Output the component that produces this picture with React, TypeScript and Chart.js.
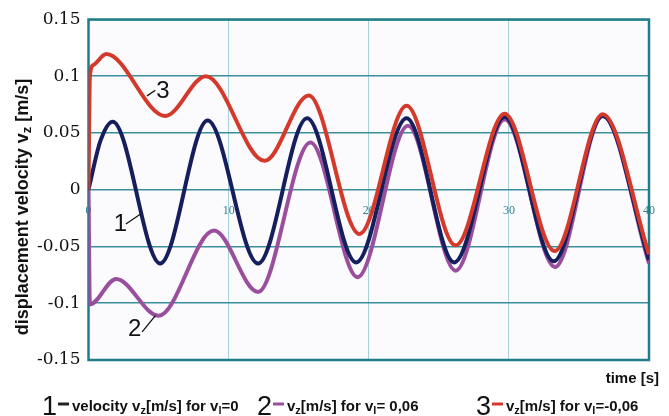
import React, { useEffect, useRef } from "react";
import { Chart, registerables } from "chart.js";

Chart.register(...registerables);

// Curve 1: velocity v_z [m/s] for v_l = 0
const time1 = [0, 0.85, 1.73, 5.12, 8.5, 12.1, 15.6, 19.1, 22.7, 26.1, 29.7, 33.2, 36.7, 40];
const vel1 = [0, 0.043, 0.06, -0.065, 0.061, -0.065, 0.063, -0.064, 0.063, -0.064, 0.064, -0.063, 0.065, -0.062];

// Curve 2: v_z [m/s] for v_l = 0,06
const time2 = [0, 0.1, 1.97, 5.0, 8.96, 12.1, 15.84, 19.2, 22.8, 26.2, 29.7, 33.3, 36.7, 40];
const vel2 = [0, -0.101, -0.0786, -0.111, -0.036, -0.09, 0.0417, -0.077, 0.0563, -0.0713, 0.062, -0.068, 0.065, -0.065];

// Curve 3: v_z [m/s] for v_l = -0,06
const time3 = [0, 0.1, 0.35, 1.27, 5.47, 8.38, 12.57, 15.72, 19.34, 22.7, 26.2, 29.7, 33.27, 36.7, 40];
const vel3 = [0, 0.1, 0.11, 0.1195, 0.065, 0.1, 0.0255, 0.083, -0.039, 0.074, -0.049, 0.067, -0.054, 0.0666, -0.057];

const xTickValues = [0, 10, 20, 30, 40];
const xTickLabels = ["0", "10", "20", "30", "40"];
const yTickValues = [-0.15, -0.1, -0.05, 0, 0.05, 0.1, 0.15];
const yTickLabels = ["-0.15", "-0.1", "-0.05", "0", "0.05", "0.1", "0.15"];

const curveNames = ["1", "2", "3"];
// in-plot curve labels (data units): text centre, leader line start and end
const labelTextT = [2.27, 3.29, 5.31];
const labelTextV = [-0.0302, -0.1226, 0.0869];
const leaderFromT = [2.67, 3.83, 4.18];
const leaderFromV = [-0.0302, -0.1253, 0.0827];
const leaderToT = [3.72, 4.77, 4.77];
const leaderToV = [-0.0214, -0.1109, 0.0877];

const COLORS = { c1: "#161f5e", c2: "#9a4f9e", c3: "#d43a2c" };

type Part = [string, boolean];

function drawParts(ctx: CanvasRenderingContext2D, parts: Part[], x: number, y: number, font: string, subFont: string, subDy: number) {
  let cx = x;
  for (const [t, s] of parts) {
    ctx.font = s ? subFont : font;
    ctx.fillText(t, cx, y + (s ? subDy : 0));
    cx += ctx.measureText(t).width;
  }
  return cx;
}
function partsWidth(ctx: CanvasRenderingContext2D, parts: Part[], font: string, subFont: string) {
  let w = 0;
  for (const [t, s] of parts) {
    ctx.font = s ? subFont : font;
    w += ctx.measureText(t).width;
  }
  return w;
}

const decorPlugin = {
  id: "decor",
  beforeDraw(chart: any) {
    const { ctx, chartArea: a } = chart;
    ctx.save();
    ctx.fillStyle = "#ffffff";
    ctx.fillRect(0, 0, chart.width, chart.height);
    ctx.fillStyle = "#fbfbfd";
    ctx.fillRect(a.left, a.top, a.right - a.left, a.bottom - a.top);
    ctx.restore();
  },
  beforeDatasetsDraw(chart: any) {
    const { ctx, chartArea: a } = chart;
    ctx.save();
    ctx.strokeStyle = "#1f7d8b";
    ctx.lineWidth = 2.5;
    ctx.strokeRect(a.left, a.top, a.right - a.left, a.bottom - a.top);
    ctx.restore();
  },
  afterDraw(chart: any) {
    const { ctx } = chart;
    const xs = chart.scales.x;
    const ys = chart.scales.y;
    ctx.save();
    // curve labels
    ctx.fillStyle = "#111";
    ctx.strokeStyle = "#111";
    ctx.lineWidth = 1.3;
    ctx.textAlign = "center";
    ctx.textBaseline = "middle";
    ctx.font = "24px 'Liberation Sans', Arial, sans-serif";
    for (let i = 0; i < curveNames.length; i++) {
      ctx.fillText(curveNames[i], xs.getPixelForValue(labelTextT[i]), ys.getPixelForValue(labelTextV[i]));
      ctx.beginPath();
      ctx.moveTo(xs.getPixelForValue(leaderFromT[i]), ys.getPixelForValue(leaderFromV[i]));
      ctx.lineTo(xs.getPixelForValue(leaderToT[i]), ys.getPixelForValue(leaderToV[i]));
      ctx.stroke();
    }

    // y-axis title
    const tFont = "bold 18px 'Liberation Sans', Arial, sans-serif";
    const tSub = "bold 13px 'Liberation Sans', Arial, sans-serif";
    const title: Part[] = [["displacement velocity v", false], ["z", true], [" [m/s]", false]];
    ctx.save();
    ctx.translate(23, 207);
    ctx.rotate(-Math.PI / 2);
    ctx.textAlign = "left";
    ctx.textBaseline = "middle";
    const tw = partsWidth(ctx, title, tFont, tSub);
    drawParts(ctx, title, -tw / 2, 0, tFont, tSub, 4);
    ctx.restore();

    // x-axis title
    ctx.textAlign = "right";
    ctx.textBaseline = "alphabetic";
    ctx.font = "bold 15px 'Liberation Sans', Arial, sans-serif";
    ctx.fillText("time [s]", 659, 383);

    // legend
    ctx.textAlign = "left";
    const bigFont = "27px 'Liberation Sans', Arial, sans-serif";
    const sFont = "bold 15px 'Liberation Sans', Arial, sans-serif";
    const sSub = "bold 11px 'Liberation Sans', Arial, sans-serif";
    const items: { x: number; color: string; parts: Part[] }[] = [
      { x: 42, color: COLORS.c1, parts: [["velocity v", false], ["z", true], ["[m/s] for v", false], ["l", true], ["=0", false]] },
      { x: 257, color: COLORS.c2, parts: [["v", false], ["z", true], ["[m/s] for v", false], ["l", true], ["= 0,06", false]] },
      { x: 476, color: COLORS.c3, parts: [["v", false], ["z", true], ["[m/s] for v", false], ["l", true], ["=-0,06", false]] },
    ];
    for (let i = 0; i < items.length; i++) {
      const it = items[i];
      ctx.fillStyle = "#111";
      ctx.font = bigFont;
      ctx.fillText(curveNames[i], it.x, 415);
      const dx = it.x + ctx.measureText(curveNames[i]).width + 1;
      ctx.strokeStyle = i === 0 ? "#222" : it.color;
      ctx.lineWidth = 3;
      ctx.beginPath();
      ctx.moveTo(dx, 404);
      ctx.lineTo(dx + 11, 404);
      ctx.stroke();
      ctx.fillStyle = "#111";
      drawParts(ctx, it.parts, dx + 14, 411, sFont, sSub, 3);
    }
    ctx.restore();
  },
};

export default function App() {
  const ref = useRef<HTMLCanvasElement>(null);
  useEffect(() => {
    const mk = (t: number[], v: number[]) => t.map((x, i) => ({ x, y: v[i] }));
    const common = { pointRadius: 0, borderWidth: 4, fill: false, cubicInterpolationMode: "monotone" as const };
    const chart = new Chart(ref.current!, {
      type: "line",
      data: {
        datasets: [
          { label: "3", data: mk(time3, vel3), borderColor: COLORS.c3, order: 0, ...common },
          { label: "1", data: mk(time1, vel1), borderColor: COLORS.c1, order: 1, ...common },
          { label: "2", data: mk(time2, vel2), borderColor: COLORS.c2, order: 2, ...common },
        ],
      },
      options: {
        responsive: false,
        animation: false,
        events: [],
        layout: { padding: { left: 8.5, top: 19.5, right: 9, bottom: 56 } },
        plugins: { legend: { display: false }, tooltip: { enabled: false } },
        scales: {
          x: {
            type: "linear",
            min: 0,
            max: 40,
            position: { y: 0 } as any,
            afterBuildTicks: (s: any) => { s.ticks = xTickValues.map((v) => ({ value: v })); },
            ticks: {
              callback: (_v: any, i: number) => xTickLabels[i],
              font: { family: "'Liberation Serif', serif", size: 12 },
              color: "#2f7f8e",
              padding: 14,
              maxRotation: 0,
              autoSkip: false,
            },
            grid: { color: "#a9cfd8", lineWidth: 1, drawTicks: false },
            border: { display: false },
          },
          y: {
            type: "linear",
            min: -0.15,
            max: 0.15,
            afterBuildTicks: (s: any) => { s.ticks = yTickValues.map((v) => ({ value: v })); },
            afterFit: (s: any) => { s.width = 80; },
            ticks: {
              callback: (_v: any, i: number) => yTickLabels[i],
              font: { family: "'DejaVu Serif', serif", size: 17 },
              color: "#111",
              padding: 8,
            },
            grid: { color: "#3b8f9d", lineWidth: 1.6, drawTicks: false },
            border: { display: false },
          },
        },
      },
      plugins: [decorPlugin],
    });
    return () => chart.destroy();
  }, []);
  return (
    <div style={{ position: "absolute", left: 0, top: 0, width: 669, height: 416, background: "#fff" }}>
      <canvas ref={ref} width={669} height={416} style={{ display: "block", width: 669, height: 416 }} />
    </div>
  );
}
